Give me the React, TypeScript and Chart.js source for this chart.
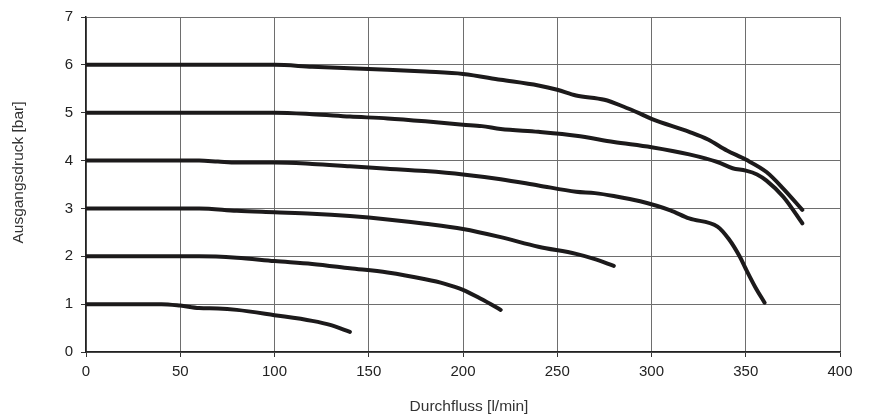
import React, { useEffect, useRef } from "react";
import { Chart, registerables } from "chart.js";

Chart.register(...registerables);

const xTicks = [0, 50, 100, 150, 200, 250, 300, 350, 400];
const yTicks = [0, 1, 2, 3, 4, 5, 6, 7];

const curve1: [number, number][] = [
  [0, 1], [20, 1], [40, 1], [50, 0.97], [60, 0.92], [70, 0.91], [80, 0.88],
  [100, 0.77], [120, 0.65], [130, 0.56], [140, 0.42],
];
const curve2: [number, number][] = [
  [0, 2], [20, 2], [40, 2], [60, 2], [80, 1.97], [100, 1.9], [120, 1.84],
  [140, 1.75], [160, 1.66], [180, 1.52], [190, 1.43], [200, 1.3], [210, 1.1], [220, 0.88],
];
const curve3: [number, number][] = [
  [0, 3], [20, 3], [40, 3], [60, 3], [80, 2.95], [100, 2.92], [120, 2.89],
  [140, 2.84], [160, 2.77], [180, 2.68], [200, 2.57], [220, 2.4], [240, 2.2],
  [260, 2.05], [270, 1.94], [280, 1.8],
];
const curve4: [number, number][] = [
  [0, 4], [20, 4], [40, 4], [60, 4], [70, 3.98], [80, 3.96], [100, 3.96],
  [120, 3.93], [140, 3.88], [160, 3.83], [180, 3.78], [200, 3.71], [220, 3.61],
  [240, 3.48], [260, 3.35], [270, 3.32], [280, 3.26], [294, 3.15], [310, 2.96],
  [320, 2.79], [335, 2.62], [341, 2.36], [347, 1.98], [350, 1.74], [355, 1.36], [360, 1.03],
];
const curve5: [number, number][] = [
  [0, 5], [20, 5], [40, 5], [60, 5], [80, 5], [100, 5], [120, 4.97],
  [140, 4.92], [160, 4.88], [180, 4.82], [200, 4.75], [210, 4.72], [220, 4.66],
  [240, 4.6], [260, 4.52], [280, 4.39], [300, 4.28], [320, 4.13], [335, 3.97],
  [343, 3.84], [350, 3.79], [356, 3.71], [361, 3.58], [370, 3.24], [380, 2.69],
];
const curve6: [number, number][] = [
  [0, 6], [20, 6], [40, 6], [60, 6], [80, 6], [100, 6], [120, 5.96],
  [140, 5.93], [160, 5.9], [180, 5.86], [200, 5.81], [220, 5.69], [240, 5.57],
  [250, 5.48], [260, 5.36], [275, 5.27], [285, 5.13], [294, 4.98], [300, 4.87],
  [320, 4.6], [330, 4.44], [340, 4.21], [350, 4.02], [361, 3.76], [370, 3.41], [380, 2.97],
];

const curves = [curve1, curve2, curve3, curve4, curve5, curve6];
const xTitle = "Durchfluss [l/min]";
const yTitle = "Ausgangsdruck [bar]";

const FONT = "'Liberation Sans', Arial, sans-serif";

const titlePlugin = {
  id: "axisTitles",
  afterDraw(chart: any) {
    const { ctx, chartArea } = chart;
    ctx.save();
    ctx.fillStyle = "#333";
    ctx.font = `15.5px ${FONT}`;
    ctx.textAlign = "center";
    ctx.textBaseline = "middle";
    const cx = (chartArea.left + chartArea.right) / 2 + 6;
    ctx.fillText(xTitle, cx, 407);
    const cy = (chartArea.top + chartArea.bottom) / 2 - 12;
    ctx.translate(19, cy);
    ctx.rotate(-Math.PI / 2);
    ctx.fillText(yTitle, 0, 0);
    ctx.restore();
  },
};

export default function App() {
  const ref = useRef<HTMLCanvasElement | null>(null);

  useEffect(() => {
    if (!ref.current) return;
    const chart = new Chart(ref.current, {
      type: "scatter",
      data: {
        datasets: curves.map((c) => ({
          data: c.map(([x, y]) => ({ x, y })),
          showLine: true,
          borderColor: "#1c1a1b",
          borderWidth: 4,
          pointRadius: 0,
          cubicInterpolationMode: "monotone" as const,
          fill: false,
          borderCapStyle: "round" as const,
          borderJoinStyle: "round" as const,
        })),
      },
      options: {
        animation: false,
        responsive: true,
        maintainAspectRatio: false,
        layout: { padding: { left: 0, right: 33, top: 16, bottom: 0 } },
        plugins: { legend: { display: false }, tooltip: { enabled: false } },
        scales: {
          x: {
            type: "linear",
            min: 0,
            max: 400,
            afterBuildTicks: (s: any) => {
              s.ticks = xTicks.map((v) => ({ value: v }));
            },
            afterFit: (s: any) => {
              s.height = 67;
            },
            grid: {
              color: "#6e6e6e",
              lineWidth: 1,
              tickLength: 5,
              tickColor: "#333",
            },
            border: { color: "#222", width: 1.5 },
            ticks: {
              color: "#222",
              font: { family: FONT, size: 15 },
              padding: 6,
              maxRotation: 0,
            },
            title: { display: false },
          },
          y: {
            type: "linear",
            min: 0,
            max: 7,
            afterBuildTicks: (s: any) => {
              s.ticks = yTicks.map((v) => ({ value: v }));
            },
            afterFit: (s: any) => {
              s.width = 86;
            },
            grid: {
              color: "#6e6e6e",
              lineWidth: 1,
              tickLength: 5,
              tickColor: "#333",
            },
            border: { color: "#222", width: 1.5 },
            ticks: {
              color: "#222",
              font: { family: FONT, size: 15 },
              padding: 8,
            },
            title: { display: false },
          },
        },
      },
      plugins: [titlePlugin],
    });
    return () => chart.destroy();
  }, []);

  return (
    <div style={{ position: "fixed", left: 0, top: 0, width: 873, height: 419, background: "#fff" }}>
      <canvas ref={ref} />
    </div>
  );
}
